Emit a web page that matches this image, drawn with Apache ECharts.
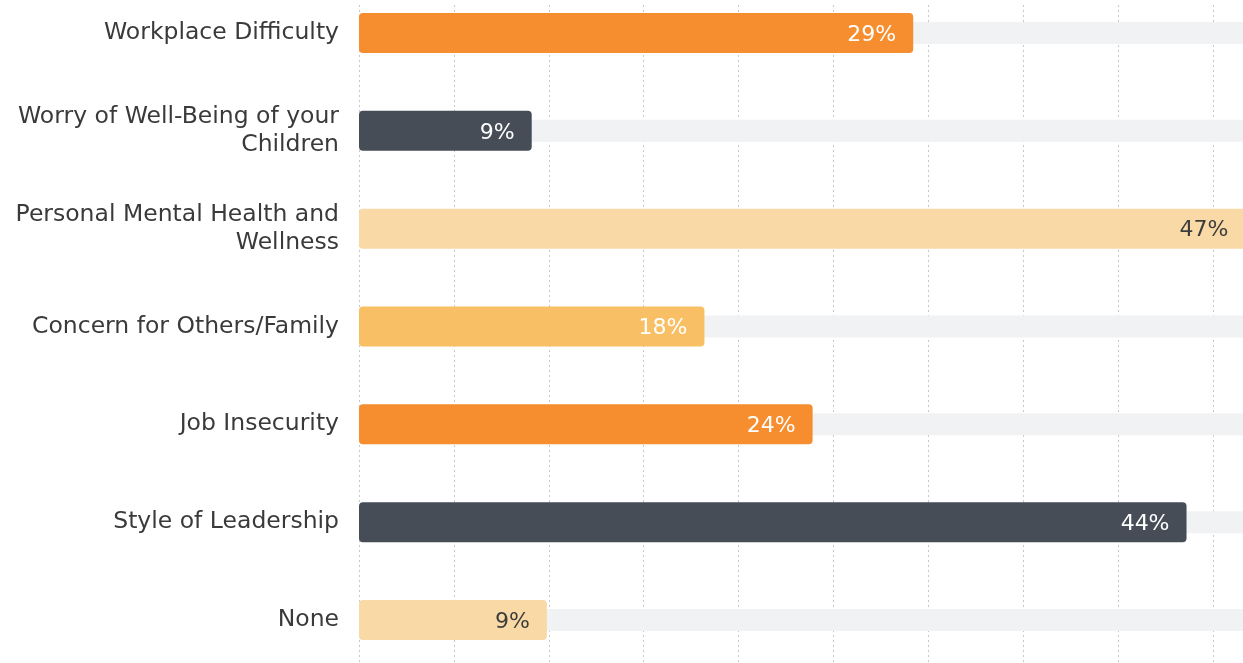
<!DOCTYPE html>
<html>
<head>
<meta charset="utf-8">
<script src="https://cdn.jsdelivr.net/npm/echarts@6/dist/echarts.min.js"></script>
<style>
html,body{margin:0;padding:0;background:#fff;overflow:hidden;width:1243px;height:663px;position:relative}
#c{position:absolute;left:0;top:-16px;width:1308px;height:685px}
</style>
</head>
<body>
<div id="c"></div>
<script>
const categories = [
  "Workplace Difficulty",
  "Worry of Well-Being of your\nChildren",
  "Personal Mental Health and\nWellness",
  "Concern for Others/Family",
  "Job Insecurity",
  "Style of Leadership",
  "None"
];
const values = [29.2, 9.1, 46.7, 18.2, 23.9, 43.6, 9.9];
const valueLabels = ["29%", "9%", "47%", "18%", "24%", "44%", "9%"];
const barColors = ["#f68d2e", "#464d57", "#f9d9a6", "#f9bf65", "#f68d2e", "#464d57", "#f9d9a6"];
const labelColors = ["#ffffff", "#ffffff", "#3d3d3d", "#ffffff", "#ffffff", "#ffffff", "#3d3d3d"];
const axisMax = 50;
const axisInterval = 5;
const trackValues = categories.map(() => axisMax);

const FONT = "DejaVu Sans";
const chart = echarts.init(document.getElementById('c'), null, {renderer: 'canvas'});
chart.setOption({
  animation: false,
  textStyle: {fontFamily: FONT},
  grid: [
    {left: 359, right: 0, top: 0, bottom: 0, containLabel: false},
    {left: 359, right: 0, top: 21, bottom: 0, containLabel: false}
  ],
  xAxis: [
    {gridIndex: 0, type: 'value', min: 0, max: axisMax, interval: axisInterval,
     axisLine: {show: false}, axisTick: {show: false}, axisLabel: {show: false}, splitLine: {show: false}},
    {gridIndex: 1, type: 'value', min: 0, max: axisMax, interval: axisInterval,
     axisLine: {show: false}, axisTick: {show: false}, axisLabel: {show: false},
     splitLine: {show: true, lineStyle: {color: '#c8c8c8', type: [2, 3], width: 1}}}
  ],
  yAxis: [
    {gridIndex: 0, type: 'category', data: categories, inverse: true,
     axisLine: {show: false}, axisTick: {show: false},
     axisLabel: {margin: 20, fontSize: 23.5, color: '#3a3a3a', fontWeight: 'normal', fontFamily: FONT,
       lineHeight: 28, align: 'right', padding: [8, 0, 0, 0]}},
    {gridIndex: 0, type: 'category', data: categories, inverse: true, show: false},
    {gridIndex: 1, type: 'value', show: false}
  ],
  series: [
    {type: 'bar', xAxisIndex: 0, yAxisIndex: 1, data: trackValues, barWidth: 22,
     itemStyle: {color: '#f1f2f4'}, silent: true, z: 1},
    {type: 'bar', xAxisIndex: 0, yAxisIndex: 0, barWidth: 40, z: 3,
     data: values.map((v, i) => ({value: v, itemStyle: {color: barColors[i]},
       label: {color: labelColors[i]}})),
     itemStyle: {borderRadius: 4},
     label: {show: true, position: 'insideRight', distance: 17, fontSize: 22, fontFamily: FONT,
       offset: [0, 2], formatter: p => valueLabels[p.dataIndex]}}
  ]
});
</script>
</body>
</html>
